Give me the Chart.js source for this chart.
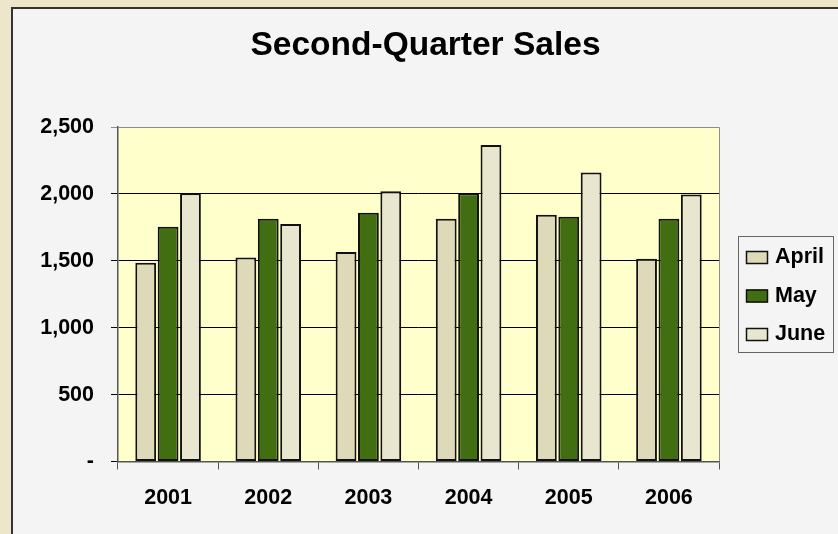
<!DOCTYPE html>
<html>
<head>
<meta charset="utf-8">
<title>Second-Quarter Sales</title>
<script src="https://cdn.jsdelivr.net/npm/chart.js@4.4.1/dist/chart.umd.min.js"></script>
<style>
  html, body { margin: 0; padding: 0; background: #EDE6CA; }
  #wrap { width: 838px; height: 534px; }
</style>
</head>
<body>
<div id="wrap"><canvas id="grafico" width="838" height="534"></canvas></div>
<script>
// data
const years = ['2001', '2002', '2003', '2004', '2005', '2006'];
const april = [1485, 1525, 1565, 1815, 1845, 1515];
const may = [1755, 1815, 1860, 2005, 1830, 1815];
const june = [2005, 1775, 2020, 2365, 2160, 1995];
const yTicks = [0, 500, 1000, 1500, 2000, 2500];
const yTickLabels = ['-', '500', '1,000', '1,500', '2,000', '2,500'];
const titulo = 'Second-Quarter Sales';

const FONT = '"Liberation Sans", Arial, Helvetica, sans-serif';

// backgrounds: beige frame, grey panel, yellow plot area, title and legend
const fondo = {
    id: 'fondo',
    beforeDraw(chart) {
        const c = chart.ctx;
        const a = chart.chartArea;
        c.save();
        c.fillStyle = '#EDE6CA';
        c.fillRect(0, 0, chart.width, chart.height);
        c.fillStyle = '#F4F4F4';
        c.fillRect(12, 8, chart.width - 12, chart.height - 8);
        c.strokeStyle = '#333';
        c.lineWidth = 2;
        c.beginPath();
        c.moveTo(12, chart.height);
        c.lineTo(12, 8);
        c.lineTo(chart.width, 8);
        c.stroke();
        c.fillStyle = '#FFFFCC';
        c.fillRect(a.left, a.top, a.right - a.left, a.bottom - a.top);
        c.restore();
    },
    afterDraw(chart) {
        const c = chart.ctx;
        const a = chart.chartArea;
        c.save();
        // plot area frame, top and right
        c.strokeStyle = '#8c8c8c';
        c.lineWidth = 1;
        c.beginPath();
        c.moveTo(a.left, a.top + 0.5);
        c.lineTo(a.right + 0.5, a.top + 0.5);
        c.lineTo(a.right + 0.5, a.bottom);
        c.stroke();

        // title
        c.fillStyle = '#000';
        c.font = 'bold 33.5px ' + FONT;
        c.textAlign = 'center';
        c.textBaseline = 'middle';
        c.fillText(titulo, 425.5, 46);

        // legend box
        c.textAlign = 'left';
        c.fillStyle = '#F4F4F4';
        c.fillRect(738, 236, 95, 116);
        c.strokeStyle = '#666';
        c.strokeRect(738.5, 236.5, 95, 116);
        const tops = [251, 289.5, 328];
        chart.data.datasets.forEach((ds, i) => {
            c.fillStyle = ds.backgroundColor;
            c.fillRect(746, tops[i], 22, 13);
            c.strokeStyle = '#111';
            c.lineWidth = 1.5;
            c.strokeRect(746.5, tops[i] + 0.5, 21, 12);
            c.fillStyle = '#000';
            c.font = 'bold 21.5px ' + FONT;
            c.textBaseline = 'alphabetic';
            c.fillText(ds.label, 775, tops[i] + 12);
        });
        c.restore();
    }
};

const ctx = document.getElementById('grafico');

new Chart(ctx, {
    type: 'bar',
    data: {
        labels: years,
        datasets: [
            { label: 'April', data: april, backgroundColor: '#DDD9B9' },
            { label: 'May', data: may, backgroundColor: '#426E12' },
            { label: 'June', data: june, backgroundColor: '#E9E6CF' }
        ]
    },
    options: {
        responsive: false,
        animation: false,
        layout: { padding: { left: 12, right: 119, top: 127, bottom: 0 } },
        datasets: {
            bar: {
                borderColor: '#111',
                borderWidth: 2,
                borderSkipped: false,
                categoryPercentage: 0.67,
                barPercentage: 0.93
            }
        },
        plugins: {
            legend: { display: false },
            tooltip: { enabled: false },
            title: { display: false }
        },
        scales: {
            x: {
                afterFit(s) { s.height = 72.5; },
                grid: {
                    offset: true,
                    drawOnChartArea: false,
                    drawTicks: true,
                    tickLength: 8,
                    color: '#555'
                },
                border: { color: '#555', width: 1.5 },
                ticks: {
                    color: '#000',
                    padding: 16,
                    font: { family: FONT, size: 21.5, weight: 'bold' }
                }
            },
            y: {
                min: 0,
                max: 2500,
                afterFit(s) { s.width = 106; },
                afterBuildTicks(s) { s.ticks = yTicks.map(v => ({ value: v })); },
                grid: {
                    tickLength: 7,
                    color: c => (c.tick && c.tick.value === 2500 ? '#8c8c8c' : '#000'),
                    lineWidth: 1
                },
                border: { color: '#555', width: 1.5 },
                ticks: {
                    color: '#000',
                    padding: 17,
                    font: { family: FONT, size: 21.5, weight: 'bold' },
                    callback: (v) => yTickLabels[yTicks.indexOf(v)]
                }
            }
        }
    },
    plugins: [fondo]
});
</script>
</body>
</html>
